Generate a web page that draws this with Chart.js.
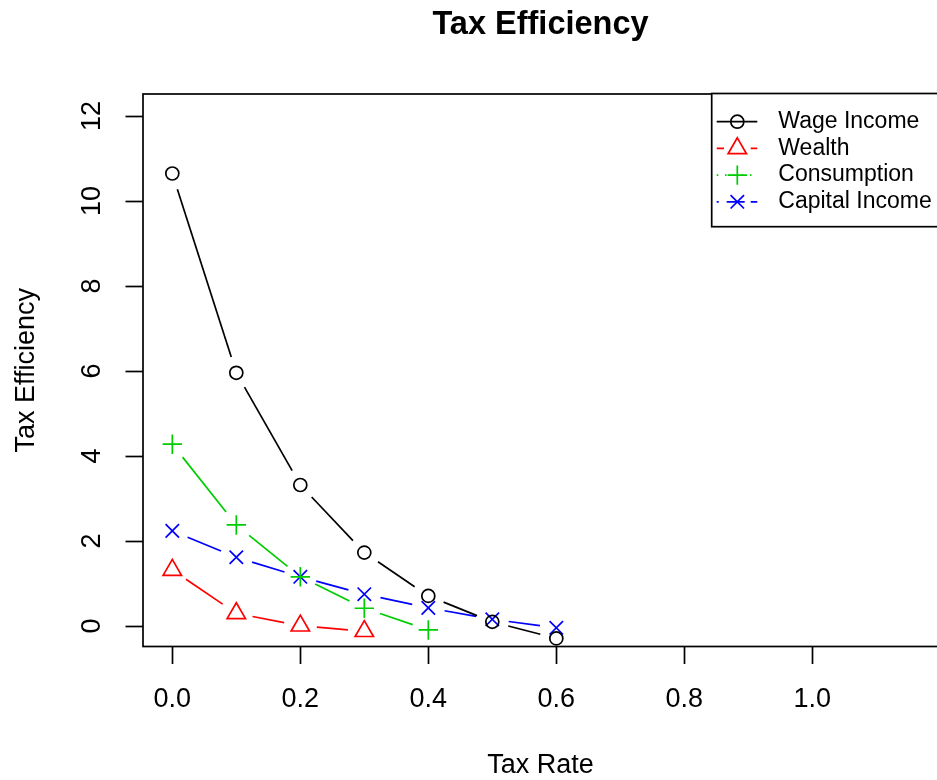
<!DOCTYPE html>
<html><head><meta charset="utf-8">
<script src="https://cdn.jsdelivr.net/npm/chart.js@4/dist/chart.umd.min.js"></script>
<style>html,body{margin:0;padding:0;overflow:hidden;background:#fff}canvas{display:block}</style>
</head><body>
<canvas id="c" width="1000" height="780" style="width:1000px;height:780px"></canvas>
<script>
// ---- data ----
const taxRates = [0, 0.1, 0.2, 0.3, 0.4, 0.5, 0.6];
const wageIncome = [10.65, 5.96, 3.32, 1.73, 0.71, 0.10, -0.29];
const wealth = [1.32, 0.30, 0.01, -0.12];
const consumption = [4.28, 2.38, 1.16, 0.42, -0.09];
const capitalIncome = [2.24, 1.62, 1.16, 0.75, 0.43, 0.16, -0.04];
const seriesNames = ['Wage Income', 'Wealth', 'Consumption', 'Capital Income'];
const xTickValues = [0, 0.2, 0.4, 0.6, 0.8, 1.0];
const xTickLabels = ['0.0', '0.2', '0.4', '0.6', '0.8', '1.0'];
const yTickValues = [0, 2, 4, 6, 8, 10, 12];
const yTickLabels = ['0', '2', '4', '6', '8', '10', '12'];

const FONT = "'Liberation Sans', Arial, Helvetica, sans-serif";
const GAP = 16.5;   // R type="b" gap around points

function toPoints(vals) { return vals.map((v, i) => ({ x: taxRates[i], y: v })); }

function gapDash(ctx) {
  const L = Math.hypot(ctx.p1.x - ctx.p0.x, ctx.p1.y - ctx.p0.y);
  const u = ctx.p0DataIndex * 1e-4;
  if (L <= 2 * GAP) return [0, L + 10 + u];
  return [0, GAP, L - 2 * GAP, GAP + 10 + u];
}

function mkSet(label, vals, color, style, radius) {
  return {
    label, data: toPoints(vals),
    borderColor: color, borderWidth: 1.7,
    pointStyle: style, pointRadius: radius, pointHoverRadius: radius,
    pointBorderColor: color, pointBackgroundColor: 'rgba(0,0,0,0)', pointBorderWidth: 1.7,
    fill: false, tension: 0,
    segment: { borderDash: gapDash }
  };
}

function drawMarker(ctx, style, r, x, y) {
  ctx.beginPath();
  if (style === 'circle') {
    ctx.arc(x, y, r, 0, Math.PI * 2);
  } else if (style === 'triangle') {
    let rad = 0;
    for (let k = 0; k < 3; k++) {
      const px = x + Math.sin(rad) * r, py = y - Math.cos(rad) * r;
      if (k === 0) ctx.moveTo(px, py); else ctx.lineTo(px, py);
      rad += 2 * Math.PI / 3;
    }
    ctx.closePath();
  } else if (style === 'cross') {
    ctx.moveTo(x - r, y); ctx.lineTo(x + r, y);
    ctx.moveTo(x, y - r); ctx.lineTo(x, y + r);
  } else if (style === 'crossRot') {
    const d = r * Math.SQRT1_2;
    ctx.moveTo(x - d, y - d); ctx.lineTo(x + d, y + d);
    ctx.moveTo(x + d, y - d); ctx.lineTo(x - d, y + d);
  }
  ctx.stroke();
}

const boxPlugin = {
  id: 'rbox',
  afterDatasetsDraw(chart) {
    const a = chart.chartArea, ctx = chart.ctx;
    ctx.save();
    ctx.strokeStyle = '#000'; ctx.lineWidth = 1.7;
    ctx.strokeRect(a.left, a.top, a.right - a.left, a.bottom - a.top);
    ctx.restore();
  }
};

const legendPlugin = {
  id: 'rlegend',
  afterDraw(chart, args, o) {
    const ctx = chart.ctx;
    ctx.save();
    ctx.fillStyle = '#fff';
    ctx.fillRect(o.left, o.top, o.width, o.height);
    ctx.strokeStyle = '#000'; ctx.lineWidth = 1.7;
    ctx.strokeRect(o.left, o.top, o.width, o.height);
    chart.data.datasets.forEach((ds, i) => {
      const y = o.firstRow + i * o.rowStep;
      ctx.strokeStyle = ds.borderColor; ctx.lineWidth = ds.borderWidth;
      ctx.lineCap = 'butt';
      ctx.setLineDash(o.dashes[i]);
      ctx.beginPath(); ctx.moveTo(o.lineX0, y); ctx.lineTo(o.lineX1, y); ctx.stroke();
      ctx.setLineDash([]);
      ctx.lineWidth = ds.pointBorderWidth;
      drawMarker(ctx, ds.pointStyle, ds.pointRadius, o.markerX, y);
      ctx.fillStyle = '#000';
      ctx.font = o.font;
      ctx.textAlign = 'left'; ctx.textBaseline = 'middle';
      ctx.fillText(ds.label, o.textX, y);
    });
    ctx.restore();
  }
};

new Chart(document.getElementById('c'), {
  type: 'line',
  data: {
    datasets: [
      mkSet(seriesNames[0], wageIncome, '#000000', 'circle', 6.5),
      mkSet(seriesNames[1], wealth, '#FF0000', 'triangle', 10.6),
      mkSet(seriesNames[2], consumption, '#00CD00', 'cross', 9.7),
      mkSet(seriesNames[3], capitalIncome, '#0000FF', 'crossRot', 9.5)
    ]
  },
  plugins: [boxPlugin, legendPlugin],
  options: {
    responsive: false,
    animation: false,
    events: [],
    layout: { padding: { left: 0, right: 62, top: 0, bottom: 0 }, autoPadding: false },
    plugins: {
      legend: { display: false },
      tooltip: { enabled: false },
      title: {
        display: true, text: 'Tax Efficiency', fullSize: false, color: '#000',
        font: { family: FONT, size: 32.5, weight: 'bold', lineHeight: 1.2 },
        padding: { top: 5.5, bottom: 49.5 }
      },
      rlegend: {
        left: 711.7, top: 93.5, width: 300, height: 133.2,
        firstRow: 121.7, rowStep: 26.7,
        lineX0: 716.7, lineX1: 757.3, markerX: 737.3, textX: 778.3,
        font: "23px " + FONT,
        dashes: [[], [7.3, 26.7], [1.6, 6.7], [2, 8, 18, 6, 8, 100]]
      }
    },
    scales: {
      x: {
        type: 'linear', min: -0.0458, max: 1.1964,
        afterBuildTicks: s => { s.ticks = xTickValues.map(v => ({ value: v })); },
        afterFit: s => { s.height = 133.5; },
        ticks: {
          callback: (v, i) => xTickLabels[i], color: '#000', padding: 19.3,
          autoSkip: false, maxRotation: 0, minRotation: 0,
          font: { family: FONT, size: 27, lineHeight: 1.2 }
        },
        grid: { display: true, drawOnChartArea: false, drawTicks: true, tickLength: 17.5, tickColor: '#000', tickWidth: 1.7 },
        border: { display: false },
        title: {
          display: true, text: 'Tax Rate', color: '#000',
          font: { family: FONT, size: 27, lineHeight: 1 },
          padding: { top: 0, bottom: 0.5 }
        }
      },
      y: {
        type: 'linear', min: -0.48, max: 12.52,
        afterBuildTicks: s => { s.ticks = yTickValues.map(v => ({ value: v })); },
        afterFit: s => { s.width = 143; },
        ticks: {
          callback: (v, i) => yTickLabels[i], color: '#000', padding: 18,
          autoSkip: false, minRotation: 90, maxRotation: 90, crossAlign: 'center',
          font: { family: FONT, size: 27, lineHeight: 1.2 }
        },
        grid: { display: true, drawOnChartArea: false, drawTicks: true, tickLength: 17.5, tickColor: '#000', tickWidth: 1.7 },
        border: { display: false },
        title: {
          display: true, text: 'Tax Efficiency', color: '#000',
          font: { family: FONT, size: 27, lineHeight: 1 },
          padding: { top: 13, bottom: 0 }
        }
      }
    }
  }
});
</script>
</body></html>
